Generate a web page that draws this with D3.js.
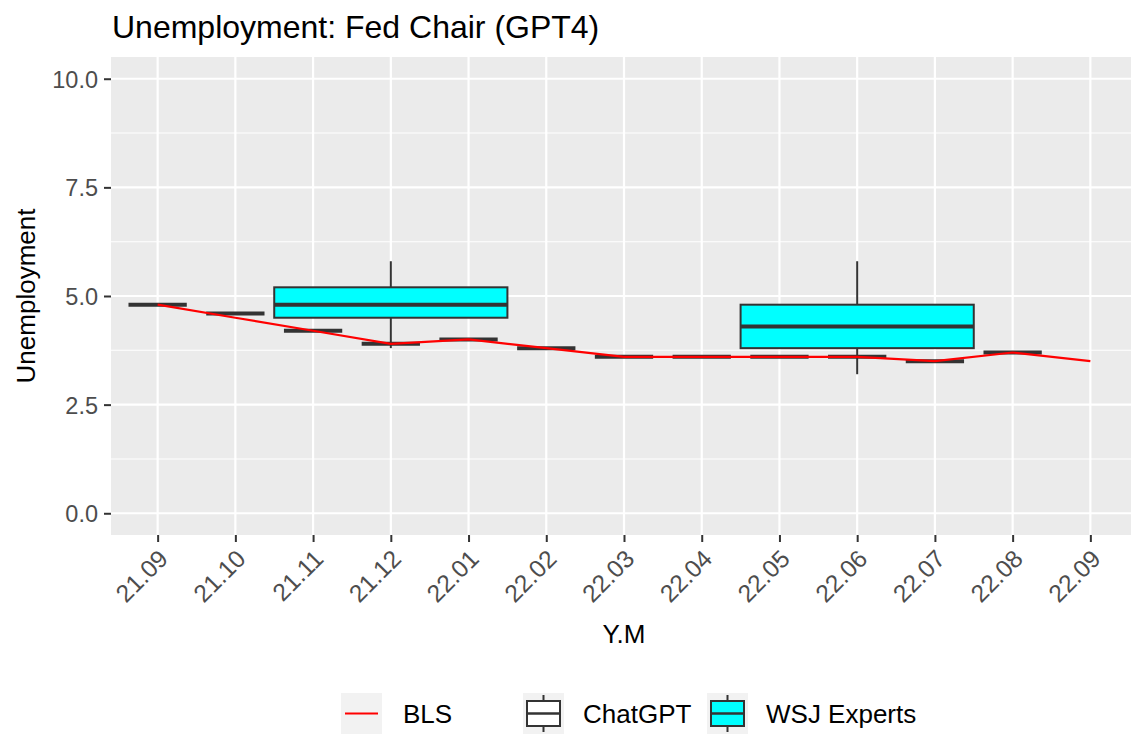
<!DOCTYPE html>
<html>
<head>
<meta charset="utf-8">
<script src="https://cdn.jsdelivr.net/npm/d3@7"></script>
<style>
  body { margin: 0; background: #fff; }
  svg { display: block; font-family: "Liberation Sans", Arial, sans-serif; }
</style>
</head>
<body>
<div id="chart"></div>
<script>
// data
const months = ['21.09', '21.10', '21.11', '21.12', '22.01', '22.02', '22.03',
  '22.04', '22.05', '22.06', '22.07', '22.08', '22.09'];
const blsRate = [4.8, 4.5, 4.2, 3.9, 4.0, 3.8, 3.6, 3.6, 3.6, 3.6, 3.5, 3.7, 3.5];
const chatMonths = months.slice(0, 12);
const chatRate = [4.8, 4.6, 4.2, 3.9, 4.0, 3.8, 3.6, 3.6, 3.6, 3.6, 3.5, 3.7];
const wsjMonths = ['21.12', '22.06'];
const wsjLow = [3.8, 3.2];
const wsjQ1 = [4.5, 3.8];
const wsjMedian = [4.8, 4.3];
const wsjQ3 = [5.2, 4.8];
const wsjHigh = [5.8, 5.8];
const yTicks = [0, 2.5, 5, 7.5, 10];
const yMinor = [1.25, 3.75, 6.25, 8.75];

const width = 1131, height = 736;
const panel = {left: 111, top: 57, right: 1137, bottom: 535};
const dark = '#333333';

const svg = d3.select('#chart').append('svg')
  .attr('width', width).attr('height', height);

const x = d3.scalePoint().domain(months)
  .range([panel.left, panel.right]).padding(0.6);
const y = d3.scaleLinear().domain([-0.5, 10.5])
  .range([panel.bottom, panel.top]);

// panel + grid
svg.append('rect')
  .attr('x', panel.left).attr('y', panel.top)
  .attr('width', panel.right - panel.left).attr('height', panel.bottom - panel.top)
  .attr('fill', '#EBEBEB');

svg.append('g').selectAll('line').data(yMinor).join('line')
  .attr('x1', panel.left).attr('x2', panel.right)
  .attr('y1', d => y(d)).attr('y2', d => y(d))
  .attr('stroke', '#fff').attr('stroke-width', 1.1);

svg.append('g').selectAll('line').data(yTicks).join('line')
  .attr('x1', panel.left).attr('x2', panel.right)
  .attr('y1', d => y(d)).attr('y2', d => y(d))
  .attr('stroke', '#fff').attr('stroke-width', 2.2);

svg.append('g').selectAll('line').data(months).join('line')
  .attr('x1', d => x(d)).attr('x2', d => x(d))
  .attr('y1', panel.top).attr('y2', panel.bottom)
  .attr('stroke', '#fff').attr('stroke-width', 2.2);

// boxes
function drawBox(g, cx, w, lo, q1, med, q3, hi, fill) {
  g.append('line').attr('x1', cx).attr('x2', cx).attr('y1', y(hi)).attr('y2', y(q3))
    .attr('stroke', dark).attr('stroke-width', 2);
  g.append('line').attr('x1', cx).attr('x2', cx).attr('y1', y(q1)).attr('y2', y(lo))
    .attr('stroke', dark).attr('stroke-width', 2);
  g.append('rect').attr('x', cx - w / 2).attr('width', w)
    .attr('y', y(q3)).attr('height', Math.max(0, y(q1) - y(q3)))
    .attr('fill', fill).attr('stroke', dark).attr('stroke-width', 2);
  g.append('line').attr('x1', cx - w / 2).attr('x2', cx + w / 2)
    .attr('y1', y(med)).attr('y2', y(med))
    .attr('stroke', dark).attr('stroke-width', 4);
}

const boxes = svg.append('g');
chatMonths.forEach((m, i) => {
  const v = chatRate[i];
  drawBox(boxes, x(m), x.step() * 0.75, v, v, v, v, v, '#fff');
});
wsjMonths.forEach((m, i) => {
  drawBox(boxes, x(m), x.step() * 3, wsjLow[i], wsjQ1[i], wsjMedian[i], wsjQ3[i], wsjHigh[i], '#00FFFF');
});

// BLS line
svg.append('path')
  .datum(months.map((m, i) => [x(m), y(blsRate[i])]))
  .attr('d', d3.line())
  .attr('fill', 'none').attr('stroke', '#FF0000').attr('stroke-width', 2.2);

// axes
const yAxis = svg.append('g')
  .attr('transform', `translate(${panel.left},0)`)
  .call(d3.axisLeft(y).tickValues(yTicks).tickFormat(d3.format('.1f')).tickSize(7).tickPadding(6));
yAxis.select('.domain').remove();
yAxis.selectAll('line').attr('stroke', dark).attr('stroke-width', 2);
yAxis.selectAll('text').attr('fill', '#4D4D4D').style('font-size', '23.5px')
  .attr('dy', '0.36em');

const xAxis = svg.append('g')
  .attr('transform', `translate(0,${panel.bottom})`)
  .call(d3.axisBottom(x).tickSize(7).tickPadding(0));
xAxis.select('.domain').remove();
xAxis.selectAll('line').attr('stroke', dark).attr('stroke-width', 2);
xAxis.selectAll('text')
  .attr('fill', '#4D4D4D').style('font-size', '24.5px')
  .attr('text-anchor', 'end')
  .attr('y', 0).attr('dy', '0.71em')
  .attr('transform', 'translate(-1,13) rotate(-45)');

// titles
svg.append('text').attr('x', 112).attr('y', 38)
  .style('font-size', '32px').attr('fill', '#000')
  .text('Unemployment: Fed Chair (GPT4)');

svg.append('text').attr('x', (panel.left + panel.right) / 2).attr('y', 643)
  .attr('text-anchor', 'middle').style('font-size', '26px').attr('fill', '#000')
  .text('Y.M');

svg.append('text')
  .attr('transform', `translate(35,${(panel.top + panel.bottom) / 2}) rotate(-90)`)
  .attr('text-anchor', 'middle').style('font-size', '26px').attr('fill', '#000')
  .text('Unemployment');

// legend
const keyTop = 693, keySize = 41, keyMid = keyTop + keySize / 2;
const legendItems = [
  {label: 'BLS', kx: 341, tx: 403, type: 'line'},
  {label: 'ChatGPT', kx: 523, tx: 583, type: 'box', fill: '#fff'},
  {label: 'WSJ Experts', kx: 707, tx: 766, type: 'box', fill: '#00FFFF'}
];
const legend = svg.append('g');
legendItems.forEach(it => {
  legend.append('rect').attr('x', it.kx).attr('y', keyTop)
    .attr('width', keySize).attr('height', keySize).attr('fill', '#F2F2F2');
  const cx = it.kx + keySize / 2;
  if (it.type === 'line') {
    legend.append('line').attr('x1', it.kx + 4).attr('x2', it.kx + keySize - 4)
      .attr('y1', keyMid).attr('y2', keyMid)
      .attr('stroke', '#FF0000').attr('stroke-width', 2.2);
  } else {
    legend.append('line').attr('x1', cx).attr('x2', cx)
      .attr('y1', keyTop + 2).attr('y2', keyTop + keySize - 2)
      .attr('stroke', dark).attr('stroke-width', 2);
    legend.append('rect').attr('x', it.kx + 4).attr('y', keyTop + 8)
      .attr('width', keySize - 8).attr('height', keySize - 16)
      .attr('fill', it.fill).attr('stroke', dark).attr('stroke-width', 2);
    legend.append('line').attr('x1', it.kx + 4).attr('x2', it.kx + keySize - 4)
      .attr('y1', keyMid).attr('y2', keyMid)
      .attr('stroke', dark).attr('stroke-width', 2.5);
  }
  legend.append('text').attr('x', it.tx).attr('y', keyMid + 9.3)
    .style('font-size', '26px').attr('fill', '#000').text(it.label);
});
</script>
</body>
</html>
